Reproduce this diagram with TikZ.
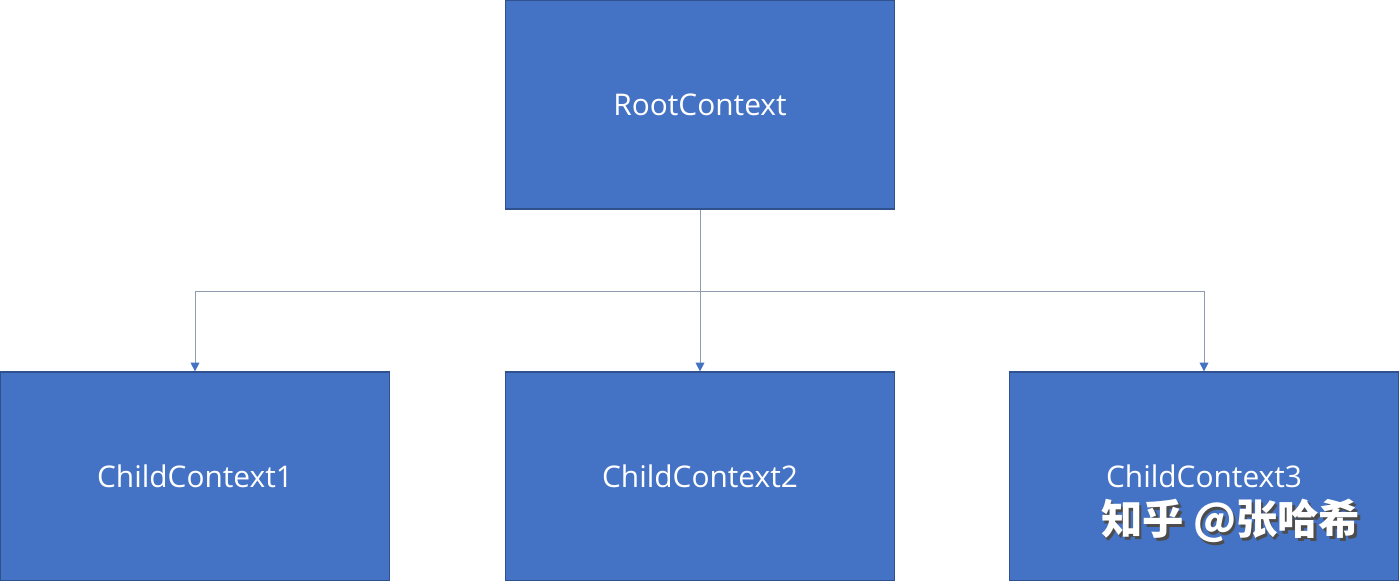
\documentclass[tikz,border=0pt]{standalone}
\usepackage{fontspec}
\setmainfont{Open Sans}
\newfontfamily\cjk{Noto Sans CJK SC}
\usetikzlibrary{arrows.meta,positioning}

\definecolor{boxfill}{rgb}{0.266667, 0.447059, 0.768627}
\definecolor{boxline}{rgb}{0.184314, 0.321569, 0.560784}
\definecolor{linkline}{rgb}{0.560784, 0.611765, 0.690196}

\newlength{\du}
\setlength{\du}{0.02cm}

\tikzset{
  ctxbox/.style={draw=boxline, fill=boxfill, line width=1.2\du, text=white,
    minimum width=389\du, minimum height=209\du, inner sep=0pt,
    font=\fontsize{17}{19}\selectfont},
  link/.style={draw=linkline, line width=1\du},
  linkarrow/.style={link, -{Triangle[width=5pt, length=5pt, color=boxfill]}},
  markfont/.style={font=\cjk\bfseries\fontsize{23.5}{25}\selectfont, anchor=west},
}

\begin{document}
\begin{tikzpicture}[x=\du, y=-\du]
\useasboundingbox (0,0) rectangle (1400,581);
% root
\node[ctxbox] (root) at (700,104.5) {RootContext};
% children
\node[ctxbox] (child1) at (195,476.5) {ChildContext1};
\node[ctxbox] (child2) at (700,476.5) {ChildContext2};
\node[ctxbox] (child3) at (1204,476.5) {ChildContext3};
% connectors
\coordinate (hub) at (700,291);
\draw[link] (root.south) -- (hub);
\draw[link] (child1.north |- hub) -- (child3.north |- hub);
\draw[linkarrow] (child1.north |- hub) -- (child1.north);
\draw[linkarrow] (hub) -- (child2.north);
\draw[linkarrow] (child3.north |- hub) -- (child3.north);
% watermark
\node[markfont, text=black!70] (markshadow) at (1097.5,523.5) {知乎 @张哈希};
\node[markfont, text=white] (mark) at (1095,521) {知乎 @张哈希};
\end{tikzpicture}
\end{document}
